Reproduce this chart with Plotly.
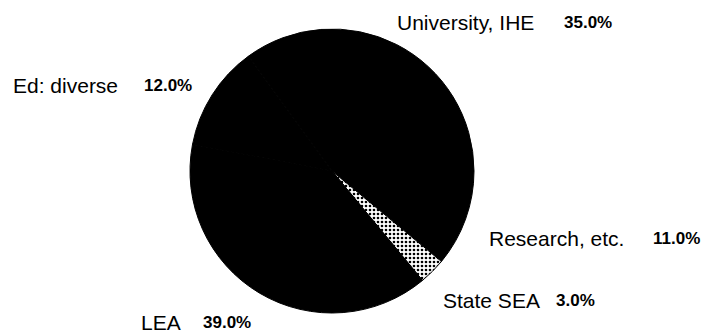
import plotly.graph_objects as go

# Funding shares by sector
sectors = ["University, IHE", "Research, etc.", "State SEA", "LEA", "Ed: diverse"]
shares = [35.0, 11.0, 3.0, 39.0, 12.0]

W, H = 702, 336

fills = ["black", "black", "white", "black", "black"]
patterns = ["", "", ".", "", ""]

fig = go.Figure(go.Pie(
    labels=sectors,
    values=shares,
    sort=False,
    direction="clockwise",
    rotation=-36,
    textinfo="none",
    hoverinfo="label+percent",
    marker=dict(
        colors=fills,
        line=dict(color="black", width=1),
        pattern=dict(shape=patterns, fgcolor="black", bgcolor="white",
                     size=4, solidity=0.35),
    ),
    domain=dict(x=[190 / W, 474 / W], y=[(H - 314) / H, (H - 28) / H]),
    showlegend=False,
))

# label placement: left edge of the name, left edge of the percentage, vertical centre (px)
name_x = [396, 488, 442, 140, 12]
pct_x = [563, 652, 555, 202, 143]
label_y = [23, 238, 300, 322, 85]

name_font = dict(family="Liberation Sans, Arial, sans-serif", size=21, color="black")
pct_font = dict(family="Liberation Sans, Arial, sans-serif", size=17, color="black")

annotations = []
for name, val, nx, px, py in zip(sectors, shares, name_x, pct_x, label_y):
    annotations.append(dict(
        x=nx / W, y=1 - py / H, xref="paper", yref="paper",
        text=name, showarrow=False, xanchor="left", yanchor="middle",
        borderpad=0, font=name_font,
    ))
    annotations.append(dict(
        x=px / W, y=1 - py / H, xref="paper", yref="paper",
        text=f"<b>{val:.1f}%</b>", showarrow=False, xanchor="left", yanchor="middle",
        borderpad=0, font=pct_font,
    ))

fig.update_layout(
    width=W, height=H,
    margin=dict(l=0, r=0, t=0, b=0),
    paper_bgcolor="white",
    plot_bgcolor="white",
    annotations=annotations,
)

fig.write_html("out.html")
